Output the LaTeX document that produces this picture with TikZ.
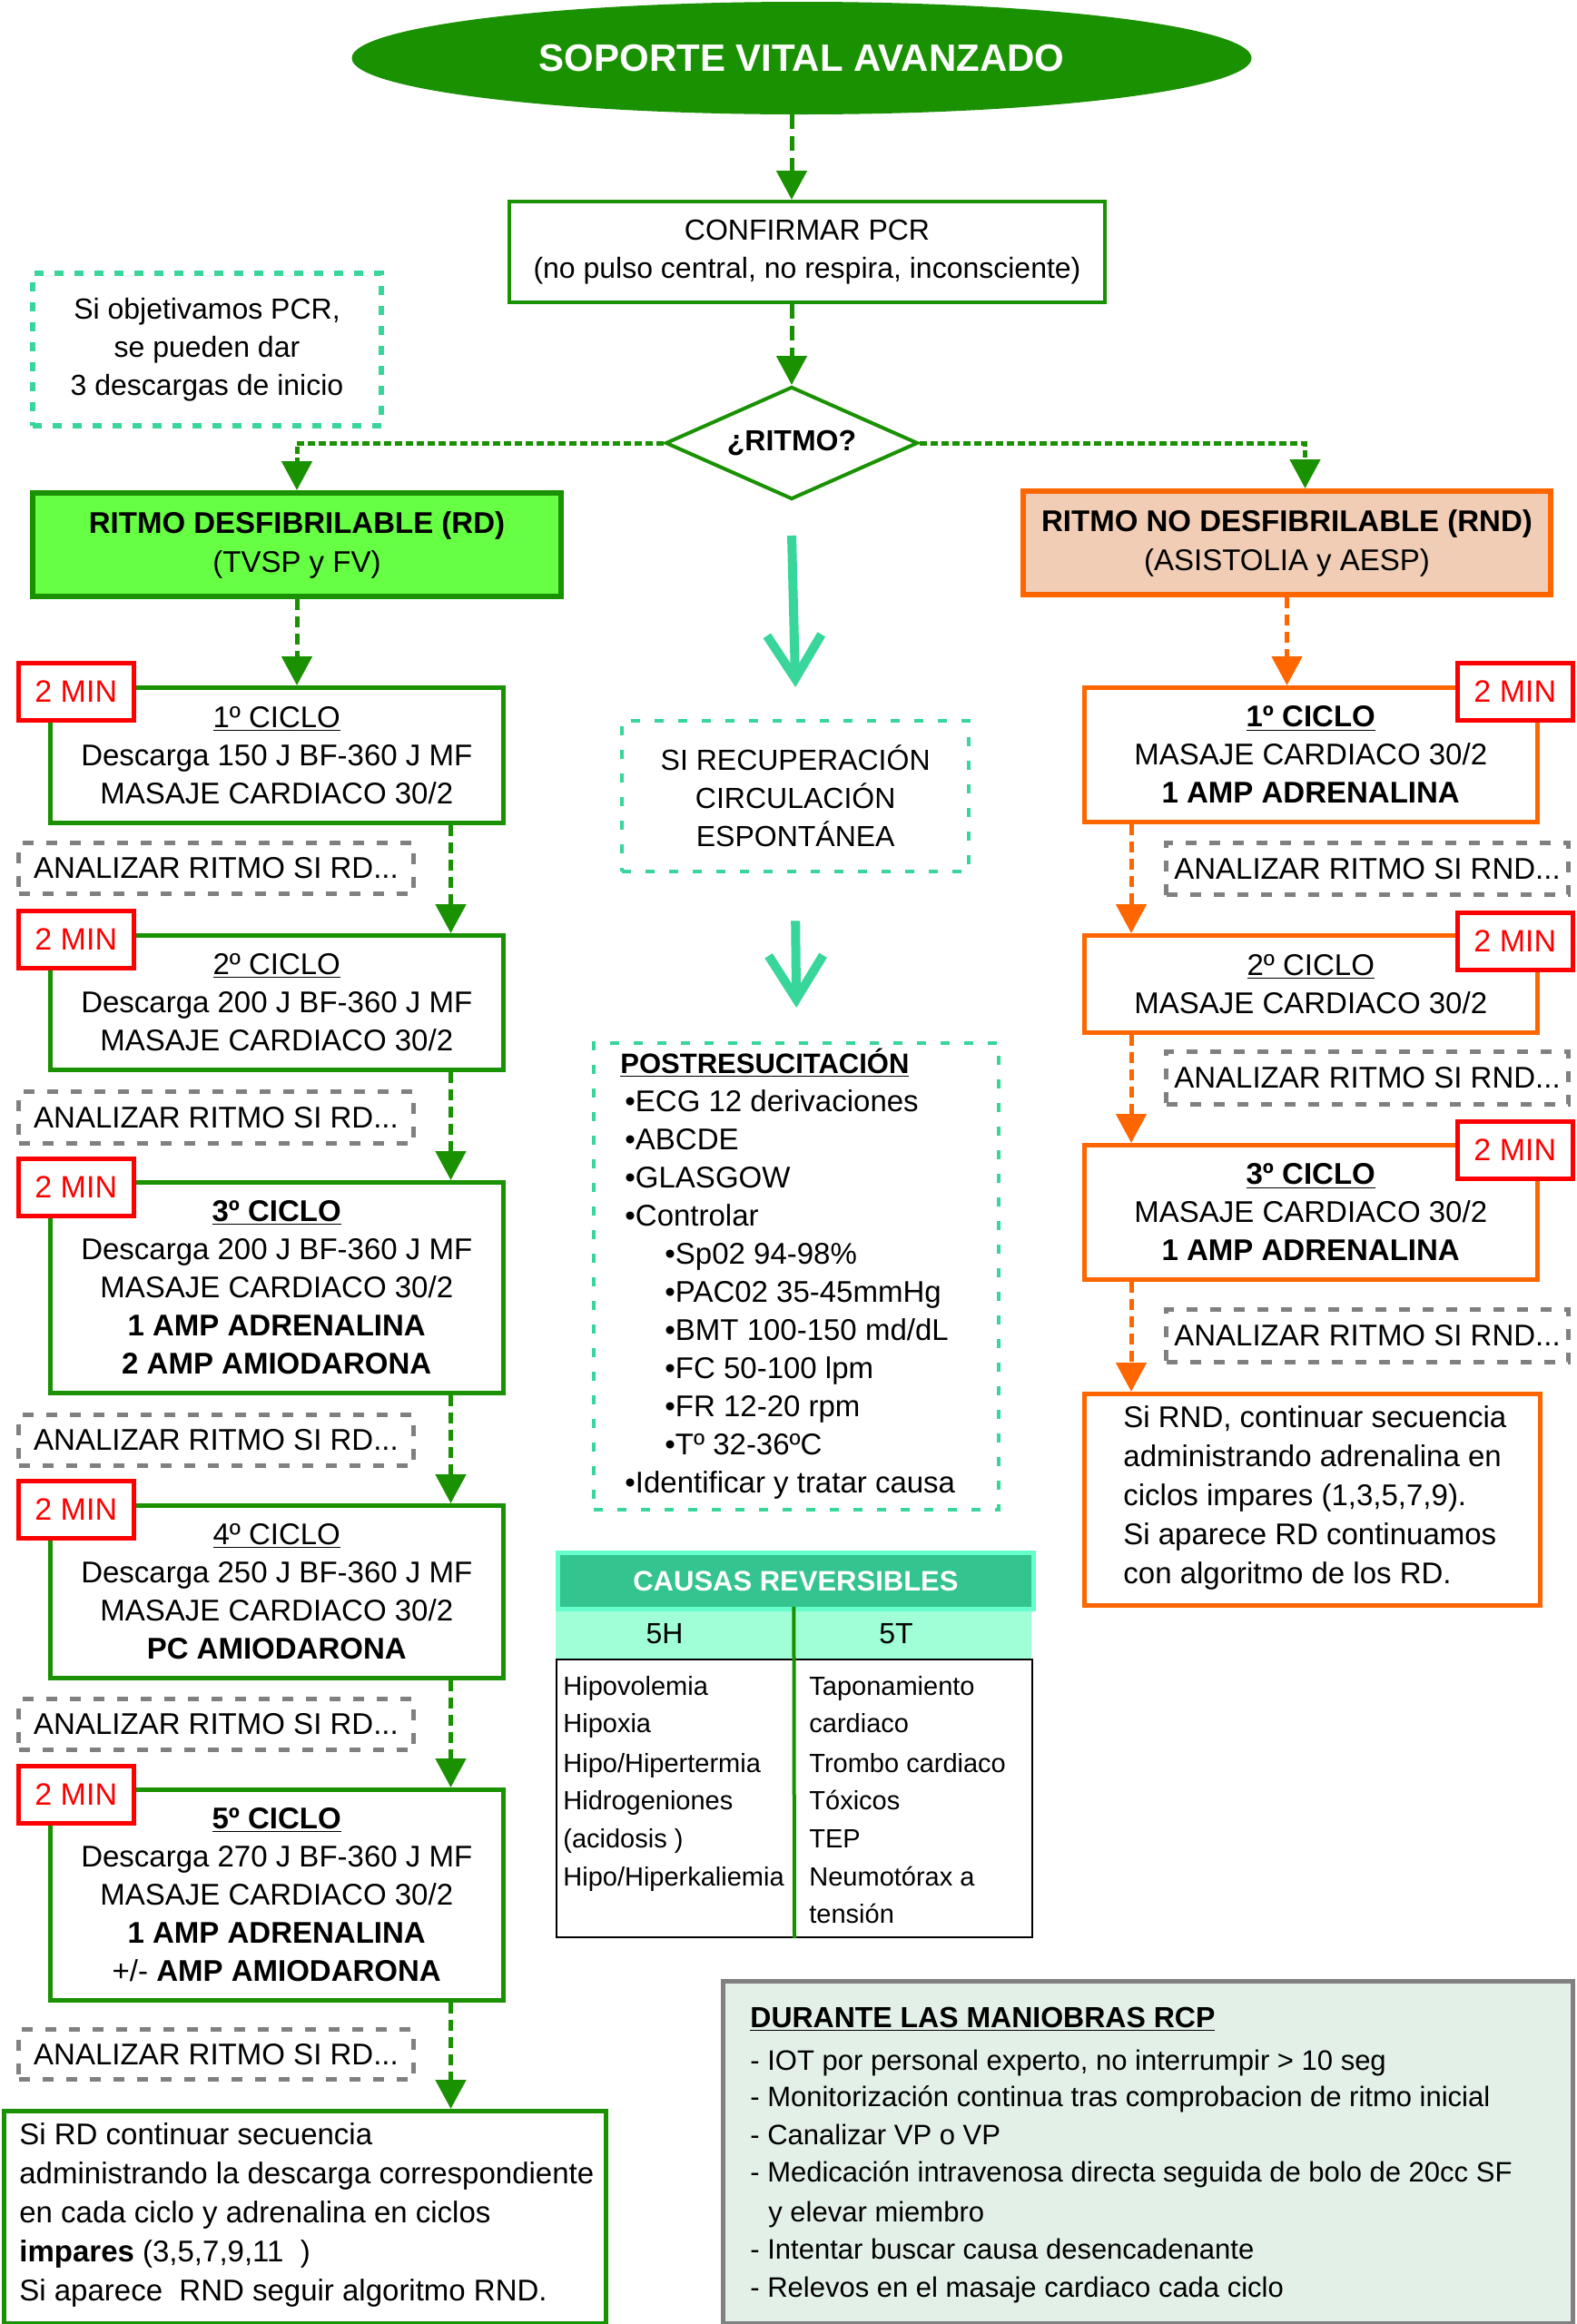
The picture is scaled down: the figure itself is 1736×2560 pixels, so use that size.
\documentclass[tikz,border=0pt]{standalone}
\usepackage{fontspec}
\setmainfont{Liberation Sans}
\usetikzlibrary{arrows.meta,shapes.geometric,calc}
\definecolor{dkgreen}{RGB}{25,145,0}
\definecolor{brgreen}{RGB}{102,255,68}
\definecolor{orng}{RGB}{255,102,0}
\definecolor{peach}{RGB}{240,205,180}
\definecolor{redb}{RGB}{255,0,0}
\definecolor{teal2}{RGB}{56,214,154}
\definecolor{gray2}{RGB}{128,128,128}
\definecolor{thead}{RGB}{51,196,143}
\definecolor{tborder}{RGB}{102,255,204}
\definecolor{tsub}{RGB}{160,255,215}
\definecolor{notebg}{RGB}{226,240,232}
\newcommand\fs[2]{\fontsize{#1}{#2}\selectfont}
\newcommand\bx[7]{\node[#1,anchor=north west,minimum width={(#5-#3)*0.5pt},minimum height={(#6-#4)*0.5pt}] (#2) at (#3,#4) {#7};}
\tikzset{
 gbox/.style={draw=dkgreen, line width=2.25pt, fill=white, inner sep=0pt, align=center, font=\fs{16.5}{21}},
 obox/.style={gbox, draw=orng},
 minb/.style={draw=redb, fill=white, line width=2.25pt, text=redb, inner sep=0pt, font=\fs{17}{21}},
 anl/.style={draw=gray2, dash pattern=on 6pt off 7pt, line width=2.5pt, fill=white, inner sep=0pt, font=\fs{16.5}{21}},
 tdash/.style={draw=teal2, dash pattern=on 5pt off 8pt, line width=2.2pt, inner sep=0pt, align=center, font=\fs{16}{21}},
 notebox/.style={draw=teal2, dash pattern=on 5pt off 6pt, line width=3pt, inner sep=0pt, align=center, font=\fs{16}{21}},
 garr/.style={draw=dkgreen, line width=2.5pt, dash pattern=on 6pt off 3.5pt, -{Triangle[width=16.5pt,length=16pt]}},
 oarr/.style={garr, draw=orng},
 tarr/.style={draw=teal2, line width=5pt, -{Straight Barb[length=24pt,width=30pt]}},
 ln/.style={anchor=base west, inner sep=0pt, font=\fs{16.5}{21}},
 tln/.style={anchor=base west, inner sep=0pt, font=\fs{14.5}{21}},
 bln/.style={anchor=base west, inner sep=0pt, font=\fs{15.5}{21}},
}
\begin{document}
\begin{tikzpicture}[x=0.5pt,y=-0.5pt]
\fill[white] (0,0) rectangle (1736,2560);
\useasboundingbox (0,0) rectangle (1736,2560);

% title
\node[ellipse, fill=dkgreen, minimum width=495.5pt, minimum height=62pt, inner sep=0pt, text=white, font=\bfseries\fs{21}{25}] (title) at (883,64) {SOPORTE VITAL AVANZADO};
\bx{gbox, line width=2pt, font=\fs{16}{21}}{conf}{559}{220}{1215}{331}{CONFIRMAR PCR\\(no pulso central, no respira, inconsciente)}
\node[diamond, aspect=2.24, draw=dkgreen, line width=2pt, fill=white, minimum width=139pt, minimum height=62pt, inner sep=0pt, font=\bfseries\fs{16}{20}] (ritmo) at (872,488) {¿RITMO?};
\bx{notebox}{nota}{33}{298}{417}{466}{Si objetivamos PCR,\\se pueden dar\\3 descargas de inicio}

\bx{gbox, fill=brgreen, line width=3pt, font=\fs{16.5}{21.5}}{rd}{33}{540}{615}{654}{\textbf{RITMO DESFIBRILABLE (RD)}\\(TVSP y FV)}
\bx{gbox, draw=orng, fill=peach, line width=3pt, font=\fs{16.5}{21.5}}{rnd}{1124}{538}{1705}{652}{\textbf{RITMO NO DESFIBRILABLE (RND)}\\(ASISTOLIA y AESP)}

\draw[garr, dash pattern=on 8pt off 4pt] (title.south -| ritmo.north) -- (conf.north -| ritmo.north);
\draw[garr, dash pattern=on 8pt off 4pt] (conf.south -| ritmo.north) -- (ritmo.north);
\draw[garr, dash pattern=on 4pt off 2pt] (ritmo.west) -| (rd.north);
\draw[garr, dash pattern=on 4pt off 2pt] (ritmo.east) -| ([xshift=10pt]rnd.north);

% middle
\bx{tdash}{recup}{683}{792}{1065}{958}{SI RECUPERACIÓN\\CIRCULACIÓN\\ESPONTÁNEA}
\bx{tdash}{post}{652}{1147}{1098}{1661}{}
\draw[tarr] ([yshift=-19pt]ritmo.south) -- ([yshift=17.5pt]recup.north);
\draw[tarr] ([yshift=-26pt]recup.south) -- ([yshift=18.5pt]post.north);

\node[ln, font=\bfseries\fs{15.5}{21}] (p0) at (683,1182) {\underline{POSTRESUCITACIÓN}};
\node[ln] (p1) at (688,1224) {•ECG 12 derivaciones};
\node[ln] (p2) at (688,1266) {•ABCDE};
\node[ln] (p3) at (688,1308) {•GLASGOW};
\node[ln] (p4) at (688,1350) {•Controlar};
\node[ln] (p5) at (732,1392) {•Sp02 94-98\%};
\node[ln] (p6) at (732,1434) {•PAC02 35-45mmHg};
\node[ln] (p7) at (732,1476) {•BMT 100-150 md/dL};
\node[ln] (p8) at (732,1518) {•FC 50-100 lpm};
\node[ln] (p9) at (732,1560) {•FR 12-20 rpm};
\node[ln] (p10) at (732,1602) {•Tº 32-36ºC};
\node[ln] (p11) at (688,1644) {•Identificar y tratar causa};

% table
\node[draw=black, line width=1pt, fill=white, anchor=north west, minimum width=262pt, minimum height=153pt, inner sep=0pt] (tbody) at (612,1827) {};
\node[fill=tsub, anchor=north west, minimum width=262pt, minimum height=28.5pt, inner sep=0pt] (tsubh) at (612,1770) {};
\draw[black, line width=1pt] (tsubh.south west) -- (tsubh.south east);
\node[fill=thead, draw=tborder, line width=2.5pt, anchor=north west, minimum width=262pt, minimum height=31pt, inner sep=0pt, text=white, font=\bfseries\fs{15.5}{20}] (thd) at (612,1708) {CAUSAS REVERSIBLES};
\node[font=\fs{16}{20}, inner sep=0pt] (h5) at (732,1800) {5H};
\node[font=\fs{16}{20}, inner sep=0pt] (t5) at (987,1800) {5T};
\draw[dkgreen, line width=2pt] (tsubh.north) -- (tbody.south);
\node[tln] (ha) at (620,1867) {Hipovolemia};
\node[tln] (hb) at (620,1908) {Hipoxia};
\node[tln] (hc) at (620,1952) {Hipo/Hipertermia};
\node[tln] (hd) at (620,1993) {Hidrogeniones};
\node[tln] (he) at (620,2035) {(acidosis )};
\node[tln] (hf) at (620,2077) {Hipo/Hiperkaliemia};
\node[tln] (ta) at (891,1867) {Taponamiento};
\node[tln] (tb) at (891,1908) {cardiaco};
\node[tln] (tc) at (891,1952) {Trombo cardiaco};
\node[tln] (td) at (891,1993) {Tóxicos};
\node[tln] (te) at (891,2035) {TEP};
\node[tln] (tf) at (891,2077) {Neumotórax a};
\node[tln] (tg) at (891,2118) {tensión};

% RCP box
\bx{draw=gray2, fill=notebg, line width=2.5pt, inner sep=0pt}{rcp}{794}{2180}{1730}{2557}{}
\node[bln, font=\bfseries\fs{16}{21}] (c0) at (826,2233) {\underline{DURANTE LAS MANIOBRAS RCP}};
\node[bln] (c1) at (826,2280) {- IOT por personal experto, no interrumpir > 10 seg};
\node[bln] (c2) at (826,2320) {- Monitorización continua tras comprobacion de ritmo inicial};
\node[bln] (c3) at (826,2362) {- Canalizar VP o VP};
\node[bln] (c4) at (826,2403) {- Medicación intravenosa directa seguida de bolo de 20cc SF};
\node[bln] (c5) at (846,2447) {y elevar miembro};
\node[bln] (c6) at (826,2488) {- Intentar buscar causa desencadenante};
\node[bln] (c7) at (826,2530) {- Relevos en el masaje cardiaco cada ciclo};

% left column
\bx{gbox}{l1}{53}{755}{552}{904}{\underline{1º CICLO}\\Descarga 150 J BF-360 J MF\\MASAJE CARDIACO 30/2}
\bx{anl}{a1}{18}{926}{453}{982}{ANALIZAR RITMO SI RD...}
\bx{gbox}{l2}{53}{1028}{552}{1176}{\underline{2º CICLO}\\Descarga 200 J BF-360 J MF\\MASAJE CARDIACO 30/2}
\bx{anl}{a2}{18}{1200}{453}{1257}{ANALIZAR RITMO SI RD...}
\bx{gbox}{l3}{53}{1300}{552}{1532}{\textbf{\underline{3º CICLO}}\\Descarga 200 J BF-360 J MF\\MASAJE CARDIACO 30/2\\\textbf{1 AMP ADRENALINA}\\\textbf{2 AMP AMIODARONA}}
\bx{anl}{a3}{18}{1556}{453}{1612}{ANALIZAR RITMO SI RD...}
\bx{gbox}{l4}{53}{1656}{552}{1846}{\underline{4º CICLO}\\Descarga 250 J BF-360 J MF\\MASAJE CARDIACO 30/2\\\textbf{PC AMIODARONA}}
\bx{anl}{a4}{18}{1869}{453}{1925}{ANALIZAR RITMO SI RD...}
\bx{gbox}{l5}{53}{1969}{552}{2201}{\textbf{\underline{5º CICLO}}\\Descarga 270 J BF-360 J MF\\MASAJE CARDIACO 30/2\\\textbf{1 AMP ADRENALINA}\\+/- \textbf{AMP AMIODARONA}}
\bx{anl}{a5}{18}{2233}{453}{2288}{ANALIZAR RITMO SI RD...}
\bx{gbox}{lf}{2}{2323}{665}{2557}{}
\node[anchor=west, align=left, inner sep=0pt, font=\fs{16.5}{21.5}] (lft) at (21,2440) {Si RD continuar secuencia\\administrando la descarga correspondiente\\en cada ciclo y adrenalina en ciclos\\\textbf{impares} (3,5,7,9,11\ \ )\\Si aparece\ \ RND seguir algoritmo RND.};
\bx{minb}{m1}{18}{728}{145}{791}{2 MIN}
\bx{minb}{m2}{18}{1001}{145}{1064}{2 MIN}
\bx{minb}{m3}{18}{1274}{145}{1337}{2 MIN}
\bx{minb}{m4}{18}{1629}{145}{1692}{2 MIN}
\bx{minb}{m5}{18}{1943}{145}{2006}{2 MIN}

\draw[garr] (rd.south) -- (rd.south |- l1.north);
\foreach \a/\b in {l1/l2,l2/l3,l3/l4,l4/l5,l5/lf}{
  \path ([xshift=-30pt]\a.south east) coordinate (c\a);
  \draw[garr] (c\a) -- (c\a |- \b.north);
}

% right column
\bx{obox}{r1}{1192}{755}{1691}{903}{\textbf{\underline{1º CICLO}}\\MASAJE CARDIACO 30/2\\\textbf{1 AMP ADRENALINA}}
\bx{anl}{b1}{1282}{926}{1725}{983}{ANALIZAR RITMO SI RND...}
\bx{obox}{r2}{1192}{1028}{1691}{1135}{\underline{2º CICLO}\\MASAJE CARDIACO 30/2}
\bx{anl}{b2}{1282}{1156}{1725}{1214}{ANALIZAR RITMO SI RND...}
\bx{obox}{r3}{1192}{1259}{1691}{1407}{\textbf{\underline{3º CICLO}}\\MASAJE CARDIACO 30/2\\\textbf{1 AMP ADRENALINA}}
\bx{anl}{b3}{1282}{1440}{1725}{1498}{ANALIZAR RITMO SI RND...}
\bx{obox}{rf}{1192}{1533}{1694}{1766}{}
\node[anchor=west, align=left, inner sep=0pt, font=\fs{16.5}{21.5}] (rft) at (1237,1650) {Si RND, continuar secuencia\\administrando adrenalina en\\ciclos impares (1,3,5,7,9).\\Si aparece RD continuamos\\con algoritmo de los RD.};
\bx{minb}{n1}{1603}{728}{1730}{791}{2 MIN}
\bx{minb}{n2}{1603}{1003}{1730}{1066}{2 MIN}
\bx{minb}{n3}{1603}{1233}{1730}{1296}{2 MIN}

\draw[oarr] (rnd.south) -- (rnd.south |- r1.north);
\foreach \a/\b in {r1/r2,r2/r3,r3/rf}{
  \path ([xshift=27pt]\a.south west) coordinate (c\a);
  \draw[oarr] (c\a) -- (c\a |- \b.north);
}
\end{tikzpicture}
\end{document}
